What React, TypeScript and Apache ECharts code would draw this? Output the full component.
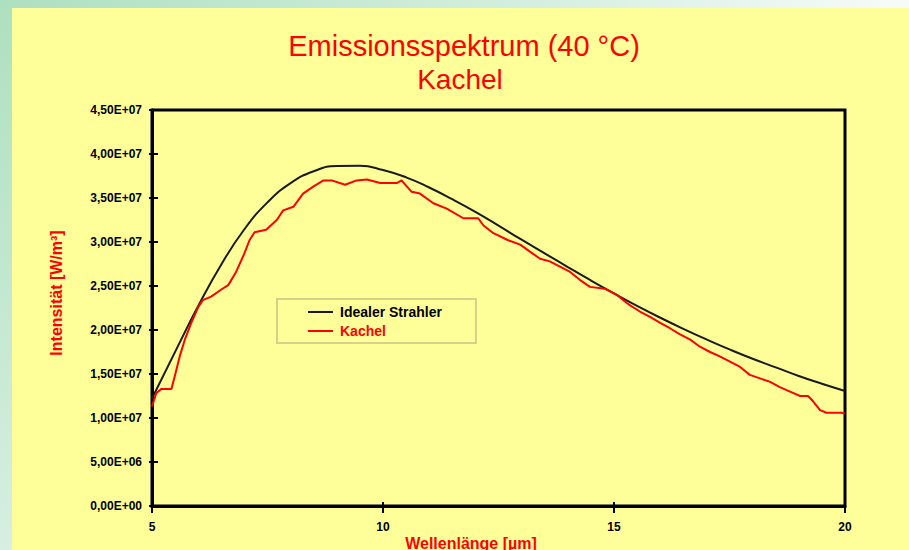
import React, { useEffect, useRef } from "react";
import * as echarts from "echarts";

const titleLines = ["Emissionsspektrum (40 °C)", "Kachel"];
const seriesNames = ["Idealer Strahler", "Kachel"];
const xAxisTitle = "Wellenlänge [µm]";
const yAxisTitle = "Intensität [W/m³]";
const xTickValues = [5, 10, 15, 20];

// Ideal radiator (black curve), wavelength in µm, intensity in W/m³
const idealWavelength = [5, 5.5, 6, 6.5, 7, 7.5, 8, 8.5, 9, 9.5, 10, 10.5, 11, 11.5, 12, 12.5, 13, 13.5, 14, 14.5, 15, 15.5, 16, 16.5, 17, 17.5, 18, 18.5, 19, 19.5, 20];
const idealIntensity = [1.222e7, 1.751e7, 2.272e7, 2.744e7, 3.145e7, 3.45e7, 3.669e7, 3.804e7, 3.864e7, 3.866e7, 3.818e7, 3.735e7, 3.619e7, 3.486e7, 3.342e7, 3.186e7, 3.026e7, 2.871e7, 2.715e7, 2.563e7, 2.416e7, 2.274e7, 2.14e7, 2.013e7, 1.893e7, 1.779e7, 1.673e7, 1.576e7, 1.477e7, 1.389e7, 1.307e7];

// Measured tile (red curve)
const kachelWavelength = [5.0, 5.09, 5.2, 5.42, 5.49, 5.6, 5.71, 5.85, 6.0, 6.1, 6.28, 6.5, 6.65, 6.82, 7.0, 7.11, 7.22, 7.47, 7.7, 7.84, 8.06, 8.27, 8.49, 8.71, 8.89, 9.18, 9.43, 9.65, 9.94, 10.3, 10.4, 10.62, 10.8, 11.09, 11.38, 11.74, 12.06, 12.17, 12.39, 12.71, 12.97, 13.18, 13.4, 13.61, 13.83, 14.05, 14.26, 14.48, 14.8, 15.06, 15.27, 15.35, 15.56, 15.78, 16.0, 16.21, 16.43, 16.65, 16.86, 17.08, 17.29, 17.51, 17.73, 17.94, 18.16, 18.38, 18.59, 18.81, 19.03, 19.2, 19.31, 19.46, 19.6, 19.93, 20.0];
const kachelIntensity = [1.13e7, 1.28e7, 1.33e7, 1.33e7, 1.47e7, 1.7e7, 1.89e7, 2.08e7, 2.26e7, 2.34e7, 2.38e7, 2.46e7, 2.51e7, 2.66e7, 2.87e7, 3.02e7, 3.11e7, 3.14e7, 3.25e7, 3.36e7, 3.4e7, 3.55e7, 3.63e7, 3.7e7, 3.7e7, 3.65e7, 3.7e7, 3.71e7, 3.67e7, 3.67e7, 3.7e7, 3.57e7, 3.55e7, 3.44e7, 3.38e7, 3.27e7, 3.27e7, 3.19e7, 3.1e7, 3.02e7, 2.97e7, 2.89e7, 2.81e7, 2.78e7, 2.72e7, 2.66e7, 2.57e7, 2.49e7, 2.47e7, 2.4e7, 2.31e7, 2.28e7, 2.21e7, 2.15e7, 2.08e7, 2.02e7, 1.95e7, 1.89e7, 1.81e7, 1.75e7, 1.7e7, 1.64e7, 1.58e7, 1.49e7, 1.45e7, 1.41e7, 1.35e7, 1.3e7, 1.25e7, 1.25e7, 1.19e7, 1.09e7, 1.06e7, 1.06e7, 1.05e7];

const FONT = "Arial, 'Liberation Sans', sans-serif";

function fmtSci(v: number): string {
  if (v === 0) return "0,00E+00";
  const e = Math.floor(Math.log10(Math.abs(v)) + 1e-9);
  const m = v / Math.pow(10, e);
  const es = (e < 0 ? "-" : "+") + String(Math.abs(e)).padStart(2, "0");
  return m.toFixed(2).replace(".", ",") + "E" + es;
}

export default function App() {
  const ref = useRef<HTMLDivElement>(null);
  useEffect(() => {
    if (!ref.current) return;
    const chart = echarts.init(ref.current, undefined, { renderer: "svg" });
    const ideal = idealWavelength.map((x, i) => [x, idealIntensity[i]]);
    const kachel = kachelWavelength.map((x, i) => [x, kachelIntensity[i]]);
    const yBase = {
      type: "value",
      min: 0,
      max: 4.5e7,
      interval: 5e6,
      splitLine: { show: false },
    };
    const xBase = {
      type: "value",
      min: 5,
      max: 20,
      interval: 5,
      splitLine: { show: false },
    };
    chart.setOption({
      animation: false,
      backgroundColor: "transparent",
      grid: {
        left: 152,
        top: 110,
        right: 64,
        bottom: 44,
        show: true,
        borderColor: "#000",
        borderWidth: 3,
        backgroundColor: "transparent",
      },
      xAxis: [
        {
          ...xBase,
          axisLine: { show: true, lineStyle: { color: "#000", width: 3 } },
          axisTick: { show: true, length: 7, lineStyle: { color: "#000", width: 2 } },
          axisLabel: {
            color: "#000",
            fontFamily: FONT,
            fontWeight: "bold",
            fontSize: 12,
            margin: 15,
            formatter: (v: number) => (xTickValues.includes(v) ? String(v) : ""),
          },
        },
        {
          ...xBase,
          position: "bottom",
          axisLine: { show: false },
          axisTick: { show: true, inside: true, length: 4, lineStyle: { color: "#000", width: 2 } },
          axisLabel: { show: false },
        },
      ],
      yAxis: [
        {
          ...yBase,
          axisLine: { show: true, lineStyle: { color: "#000", width: 3 } },
          axisTick: { show: true, length: 3, lineStyle: { color: "#000", width: 2 } },
          axisLabel: {
            color: "#000",
            fontFamily: FONT,
            fontWeight: "bold",
            fontSize: 12,
            margin: 10,
            formatter: (v: number) => fmtSci(v),
          },
        },
        {
          ...yBase,
          position: "left",
          axisLine: { show: false },
          axisTick: { show: true, inside: true, length: 6, lineStyle: { color: "#000", width: 2 } },
          axisLabel: { show: false },
        },
      ],
      legend: {
        orient: "vertical",
        left: 277,
        top: 299,
        padding: [6, 34, 5, 31],
        borderColor: "#d2d28a",
        borderWidth: 2,
        itemWidth: 25,
        itemHeight: 2,
        itemGap: 5,
        icon: "rect",
        data: [
          { name: seriesNames[0], textStyle: { color: "#000" } },
          { name: seriesNames[1], textStyle: { color: "#ff0000" } },
        ],
        textStyle: { fontFamily: FONT, fontWeight: "bold", fontSize: 14, padding: [0, 0, 0, 2] },
      },
      graphic: [
        {
          type: "text",
          x: 464,
          y: 46,
          style: {
            text: titleLines[0],
            fill: "#ff0000",
            font: `29px ${FONT}`,
            align: "center",
            verticalAlign: "middle",
          },
        },
        {
          type: "text",
          x: 460,
          y: 79,
          style: {
            text: titleLines[1],
            fill: "#ff0000",
            font: `28px ${FONT}`,
            align: "center",
            verticalAlign: "middle",
          },
        },
        {
          type: "text",
          x: 471,
          y: 543,
          style: {
            text: xAxisTitle,
            fill: "#ff0000",
            font: `bold 16px ${FONT}`,
            align: "center",
            verticalAlign: "middle",
          },
        },
        {
          type: "text",
          x: 56,
          y: 293,
          rotation: Math.PI / 2,
          style: {
            text: yAxisTitle,
            fill: "#ff0000",
            font: `bold 16px ${FONT}`,
            align: "center",
            verticalAlign: "middle",
          },
        },
      ],
      series: [
        {
          name: seriesNames[0],
          type: "line",
          data: ideal,
          smooth: true,
          symbol: "none",
          color: "#1a1a1a",
          lineStyle: { color: "#1a1a1a", width: 2 },
          z: 3,
        },
        {
          name: seriesNames[1],
          type: "line",
          data: kachel,
          smooth: false,
          symbol: "none",
          color: "#ff0000",
          lineStyle: { color: "#ff0000", width: 2 },
          z: 4,
        },
      ],
    });
    return () => chart.dispose();
  }, []);

  return (
    <div
      style={{
        position: "fixed",
        left: 0,
        top: 0,
        width: 909,
        height: 550,
        overflow: "hidden",
        background:
          "linear-gradient(135deg, #ade0bf 0%, #d6efe0 38%, #f6fbf8 62%, #ffffff 100%)",
      }}
    >
      <div
        style={{
          position: "absolute",
          left: 12,
          top: 8,
          right: 0,
          bottom: 0,
          background: "#ffff99",
        }}
      />
      <div ref={ref} style={{ position: "absolute", left: 0, top: 0, width: 909, height: 550 }} />
    </div>
  );
}
